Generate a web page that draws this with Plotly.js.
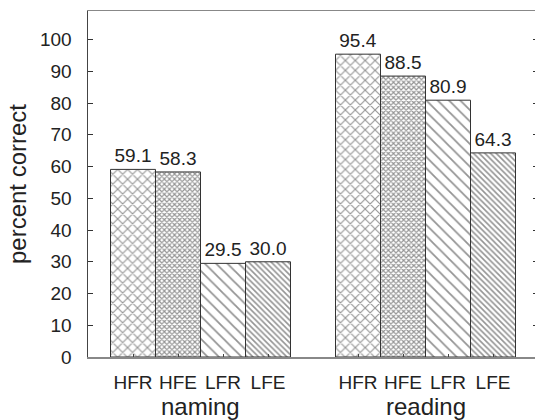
<!DOCTYPE html>
<html>
<head>
<meta charset="utf-8">
<script src="https://cdn.plot.ly/plotly-3.0.1.min.js"></script>
<style>
html, body { margin: 0; padding: 0; overflow: hidden; background: #fff; }
#chart { width: 540px; height: 420px; }
</style>
</head>
<body>
<div id="chart"></div>
<script>
// Data
const conditions = ["HFR", "HFE", "LFR", "LFE"];
const groups = ["naming", "reading"];
const namingValues = [59.1, 58.3, 29.5, 30.0];
const readingValues = [95.4, 88.5, 80.9, 64.3];
const groupPositions = [[1, 2, 3, 4], [6, 7, 8, 9]];
const yTicks = [0, 10, 20, 30, 40, 50, 60, 70, 80, 90, 100];

const patterns = [
  { shape: "x", size: 7, solidity: 0.3 },
  { shape: "x", size: 3.6, solidity: 0.55 },
  { shape: "\\", size: 8, solidity: 0.22 },
  { shape: "\\", size: 4, solidity: 0.4 }
];

const FONT = "Liberation Sans, Arial, Helvetica, sans-serif";
const seriesByGroup = [namingValues, readingValues];

const traces = conditions.map((c, i) => {
  const xs = groupPositions.map(p => p[i]);
  const ys = seriesByGroup.map(v => v[i]);
  return {
    type: "bar",
    name: c,
    x: xs,
    y: ys,
    width: 1,
    text: ys.map(v => v.toFixed(1)),
    textposition: "outside",
    cliponaxis: false,
    textfont: { family: FONT, size: 19, color: "#222" },
    marker: {
      color: "#ffffff",
      line: { color: "#333", width: 1 },
      pattern: Object.assign({ fgcolor: "#2a2a2a", bgcolor: "#ffffff", fillmode: "overlay" }, patterns[i])
    },
    hoverinfo: "skip"
  };
});

const tickvals = [].concat(...groupPositions);
const ticktext = [].concat(...groupPositions.map(() => conditions));

const layout = {
  width: 540,
  height: 420,
  margin: { l: 88, r: 2, t: 11, b: 63 },
  paper_bgcolor: "#fff",
  plot_bgcolor: "#fff",
  showlegend: false,
  barmode: "overlay",
  bargap: 0,
  font: { family: FONT, color: "#222" },
  xaxis: {
    range: [0, 10],
    tickvals: tickvals,
    ticktext: ticktext,
    ticks: "inside",
    ticklen: 3,
    tickcolor: "#444",
    ticklabelstandoff: 8,
    showline: true,
    linecolor: "#888",
    linewidth: 1.5,
    mirror: true,
    showgrid: false,
    zeroline: false,
    tickfont: { family: FONT, size: 19, color: "#222" },
    fixedrange: true
  },
  yaxis: {
    range: [0, 109],
    tickvals: yTicks,
    ticks: "inside",
    ticklen: 5,
    tickcolor: "#333",
    ticklabelstandoff: 11,
    showline: true,
    linecolor: "#444",
    linewidth: 1.5,
    mirror: "ticks",
    showgrid: false,
    zeroline: false,
    tickfont: { family: FONT, size: 19, color: "#222" },
    title: { text: "percent correct", font: { family: FONT, size: 24, color: "#222" }, standoff: 6 },
    fixedrange: true
  },
  annotations: groups.map((g, k) => ({
    text: g,
    x: (groupPositions[k][1] + groupPositions[k][2]) / 2,
    xref: "x",
    y: -0.142,
    yref: "paper",
    yanchor: "middle",
    showarrow: false,
    font: { family: FONT, size: 24, color: "#222" }
  }))
};

Plotly.newPlot("chart", traces, layout, { staticPlot: true, displayModeBar: false });
</script>
</body>
</html>
